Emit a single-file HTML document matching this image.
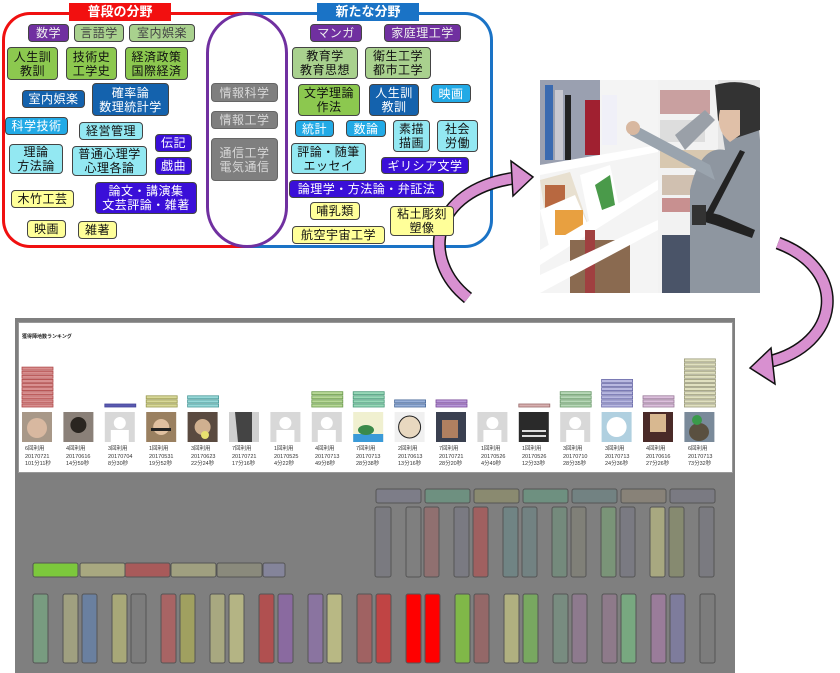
<!DOCTYPE html>
<html><head><meta charset="utf-8"><style>
*{margin:0;padding:0;box-sizing:border-box}
body{width:840px;height:673px;background:#fff;position:relative;overflow:hidden;font-family:"Liberation Sans","Noto Sans CJK JP",sans-serif}
.b{position:absolute;border:1px solid #444;border-radius:4px;font-size:12px;line-height:14px;text-align:center;display:flex;align-items:center;justify-content:center;letter-spacing:0.5px}
.pu{background:#7030a0;color:#eee}
.lg{background:#a9d18e;color:#444}
.gr{background:#8cc84f;color:#111}
.db{background:#1462ad;color:#fff}
.lb{background:#22aae6;color:#fff}
.cy{background:#93e8f2;color:#111}
.ig{background:#3a0fd8;color:#fff}
.ye{background:#ffff99;color:#111}
.gy{background:#7f7f7f;color:#d8d8d8;border-color:#666}
.t{position:absolute;font-size:5.5px;line-height:7.5px;color:#333}
</style></head><body>

<!-- frames -->
<div style="position:absolute;left:2px;top:12px;width:260px;height:236px;border:3px solid #f01010;border-right:none;border-radius:28px 0 0 28px"></div>
<div style="position:absolute;left:245px;top:12px;width:248px;height:236px;border:3px solid #1a73c6;border-left:none;border-radius:0 28px 28px 0"></div>
<div style="position:absolute;left:206px;top:12px;width:82px;height:236px;border:3px solid #7030a0;border-radius:41px"></div>
<div style="position:absolute;left:69px;top:3px;width:102px;height:18px;background:#f21010;color:#fff;font-size:13px;font-weight:bold;text-align:center;line-height:18px">普段の分野</div>
<div style="position:absolute;left:317px;top:3px;width:102px;height:18px;background:#1a73c6;color:#fff;font-size:13px;font-weight:bold;text-align:center;line-height:18px">新たな分野</div>

<!-- arrows -->
<svg style="position:absolute;left:0;top:0" width="840" height="673">
<g fill="none" stroke-linecap="butt">
<path d="M468,298 C420,260 430,190 515,178" stroke="#111" stroke-width="13"/>
<path d="M468,298 C420,260 430,190 515,178" stroke="#d890d0" stroke-width="10"/>
<path d="M778,243 C850,270 840,345 768,362" stroke="#111" stroke-width="13"/>
<path d="M778,243 C850,270 840,345 768,362" stroke="#d890d0" stroke-width="10"/>
</g>
<polygon points="511,161 533,177 513,196" fill="#d890d0" stroke="#111" stroke-width="1.5"/>
<polygon points="771,348 750,368 775,384" fill="#d890d0" stroke="#111" stroke-width="1.5"/>
</svg>

<div class="b pu" style="left:28px;top:24px;width:41px;height:18px">数学</div>
<div class="b lg" style="left:74px;top:24px;width:50px;height:18px">言語学</div>
<div class="b lg" style="left:129px;top:24px;width:66px;height:18px">室内娯楽</div>
<div class="b gr" style="left:7px;top:47px;width:51px;height:33px">人生訓<br>教訓</div>
<div class="b gr" style="left:66px;top:47px;width:51px;height:33px">技術史<br>工学史</div>
<div class="b gr" style="left:125px;top:47px;width:63px;height:33px">経済政策<br>国際経済</div>
<div class="b db" style="left:22px;top:90px;width:63px;height:18px">室内娯楽</div>
<div class="b db" style="left:92px;top:83px;width:77px;height:33px">確率論<br>数理統計学</div>
<div class="b lb" style="left:5px;top:117px;width:63px;height:18px">科学技術</div>
<div class="b cy" style="left:79px;top:122px;width:64px;height:18px">経営管理</div>
<div class="b ig" style="left:155px;top:134px;width:37px;height:18px">伝記</div>
<div class="b cy" style="left:9px;top:144px;width:54px;height:30px">理論<br>方法論</div>
<div class="b cy" style="left:72px;top:146px;width:75px;height:30px">普通心理学<br>心理各論</div>
<div class="b ig" style="left:155px;top:157px;width:37px;height:18px">戯曲</div>
<div class="b ig" style="left:95px;top:182px;width:102px;height:32px">論文・講演集<br>文芸評論・雑著</div>
<div class="b ye" style="left:11px;top:190px;width:63px;height:18px">木竹工芸</div>
<div class="b ye" style="left:27px;top:220px;width:39px;height:18px">映画</div>
<div class="b ye" style="left:78px;top:221px;width:39px;height:18px">雑著</div>

<div class="b gy" style="left:211px;top:83px;width:67px;height:19px">情報科学</div>
<div class="b gy" style="left:211px;top:111px;width:67px;height:18px">情報工学</div>
<div class="b gy" style="left:211px;top:138px;width:67px;height:43px">通信工学<br>電気通信</div>

<div class="b pu" style="left:310px;top:24px;width:52px;height:18px">マンガ</div>
<div class="b pu" style="left:384px;top:24px;width:77px;height:18px">家庭理工学</div>
<div class="b lg" style="left:292px;top:47px;width:66px;height:32px;color:#111">教育学<br>教育思想</div>
<div class="b lg" style="left:365px;top:47px;width:66px;height:32px;color:#111">衛生工学<br>都市工学</div>
<div class="b gr" style="left:298px;top:84px;width:62px;height:32px">文学理論<br>作法</div>
<div class="b db" style="left:369px;top:84px;width:50px;height:32px">人生訓<br>教訓</div>
<div class="b lb" style="left:431px;top:84px;width:40px;height:19px">映画</div>
<div class="b lb" style="left:295px;top:120px;width:39px;height:17px">統計</div>
<div class="b lb" style="left:346px;top:120px;width:40px;height:17px">数論</div>
<div class="b cy" style="left:393px;top:120px;width:37px;height:32px">素描<br>描画</div>
<div class="b cy" style="left:437px;top:120px;width:41px;height:32px">社会<br>労働</div>
<div class="b cy" style="left:291px;top:143px;width:75px;height:31px">評論・随筆<br>エッセイ</div>
<div class="b ig" style="left:381px;top:157px;width:88px;height:17px">ギリシア文学</div>
<div class="b ig" style="left:289px;top:180px;width:155px;height:18px">論理学・方法論・弁証法</div>
<div class="b ye" style="left:310px;top:202px;width:50px;height:18px">哺乳類</div>
<div class="b ye" style="left:292px;top:226px;width:93px;height:18px">航空宇宙工学</div>
<div class="b ye" style="left:390px;top:206px;width:64px;height:30px">粘土彫刻<br>塑像</div>

<!-- photo -->
<svg style="position:absolute;left:540px;top:80px" width="220" height="213" viewBox="0 0 220 213">
<rect width="220" height="213" fill="#e6e6e6"/>
<rect x="118" y="0" width="60" height="213" fill="#f2f2f2"/>
<rect x="120" y="10" width="50" height="24" fill="#c9a0a0"/><rect x="120" y="40" width="45" height="22" fill="#ddd"/>
<rect x="120" y="70" width="55" height="18" fill="#d8c8b0"/><rect x="122" y="95" width="40" height="20" fill="#d0c0b0"/>
<rect x="122" y="118" width="35" height="14" fill="#c89090"/>
<rect x="122" y="155" width="40" height="58" fill="#4a5468"/>
<polygon points="0,0 118,0 118,213 0,213" fill="#f4f4f4"/>
<polygon points="0,0 60,0 60,80 0,85" fill="#9aa0b0"/>
<rect x="5" y="5" width="8" height="75" fill="#3a6ab0"/><rect x="15" y="10" width="8" height="70" fill="#c8c8d0"/><rect x="25" y="15" width="6" height="65" fill="#222"/>
<rect x="45" y="20" width="15" height="55" fill="#a02030"/><rect x="62" y="15" width="15" height="50" fill="#f0f0f8"/>
<polygon points="0,85 118,65 118,72 0,95" fill="#fff"/>
<polygon points="0,100 30,92 50,150 10,170" fill="#e8e0d0"/><rect x="5" y="105" width="20" height="25" fill="#b86840"/>
<polygon points="0,130 35,115 50,150 10,170" fill="#fff"/><rect x="15" y="130" width="28" height="25" fill="#e8a040"/>
<polygon points="40,95 70,85 80,130 50,145" fill="#fff"/><polygon points="55,105 70,95 75,125 62,130" fill="#4a9a4a"/>
<polygon points="0,170 118,100 118,110 0,185" fill="#fff"/>
<rect x="30" y="160" width="60" height="53" fill="#8a6a50"/><rect x="45" y="150" width="10" height="63" fill="#a04040"/>
<polygon points="0,195 118,140 118,150 0,213" fill="#fff"/>
<polygon points="135,55 165,30 175,40 145,70" fill="#9aa0a8"/>
<path d="M175,5 Q200,0 215,10 L220,60 L220,213 L150,213 L150,110 Q160,65 185,70 Z" fill="#8e96a0"/>
<path d="M175,5 Q200,-2 220,8 L220,50 L190,60 L178,40 Z" fill="#333"/>
<path d="M180,30 Q175,50 190,62 L200,55 L200,30 Z" fill="#e0c0a8"/>
<path d="M95,45 L170,85 L175,100 L90,55 Z" fill="#9aa4ae"/>
<circle cx="93" cy="48" r="7" fill="#d8b8a0"/>
<polygon points="200,70 205,72 170,140 165,135" fill="#222"/>
<polygon points="160,130 180,135 215,150 212,158 175,145 158,140" fill="#222"/>
<rect x="152" y="125" width="14" height="20" fill="#333"/>
</svg>

<!-- ranking panel -->
<div style="position:absolute;left:15px;top:318px;width:720px;height:355px;background:#7f7f7f"></div>
<div style="position:absolute;left:18px;top:322px;width:715px;height:151px;background:#fff;border:1px solid #999"></div>
<div style="position:absolute;left:22px;top:333px;font-size:5px;font-weight:bold;color:#222">獲得陣地数ランキング</div>

<svg style="position:absolute;left:0;top:0" width="840" height="673">
<g stroke-width="0.8">
<g fill="#d89090" stroke="#b04848">
<rect x="22" y="404" width="31" height="3"/><rect x="22" y="399.9" width="31" height="3"/><rect x="22" y="395.8" width="31" height="3"/><rect x="22" y="391.7" width="31" height="3"/><rect x="22" y="387.6" width="31" height="3"/><rect x="22" y="383.5" width="31" height="3"/><rect x="22" y="379.4" width="31" height="3"/><rect x="22" y="375.3" width="31" height="3"/><rect x="22" y="371.2" width="31" height="3"/><rect x="22" y="367.1" width="31" height="3"/>
</g>
<rect x="104.8" y="404" width="31" height="3" fill="#5a5ab0" stroke="#44449a"/>
<g fill="#d8d898" stroke="#9a9a50"><rect x="146.2" y="404" width="31" height="3"/><rect x="146.2" y="399.9" width="31" height="3"/><rect x="146.2" y="395.8" width="31" height="3"/></g>
<g fill="#98d8d8" stroke="#4a9a9a"><rect x="187.6" y="404" width="31" height="3"/><rect x="187.6" y="399.9" width="31" height="3"/><rect x="187.6" y="395.8" width="31" height="3"/></g>
<g fill="#b8d898" stroke="#6a9a4a"><rect x="311.8" y="404" width="31" height="3"/><rect x="311.8" y="399.9" width="31" height="3"/><rect x="311.8" y="395.8" width="31" height="3"/><rect x="311.8" y="391.7" width="31" height="3"/></g>
<g fill="#98d8b8" stroke="#4a9a7a"><rect x="353.2" y="404" width="31" height="3"/><rect x="353.2" y="399.9" width="31" height="3"/><rect x="353.2" y="395.8" width="31" height="3"/><rect x="353.2" y="391.7" width="31" height="3"/></g>
<g fill="#98b0d8" stroke="#4a6a9a"><rect x="394.6" y="404" width="31" height="3"/><rect x="394.6" y="399.9" width="31" height="3"/></g>
<g fill="#b898d8" stroke="#7a4a9a"><rect x="436" y="404" width="31" height="3"/><rect x="436" y="399.9" width="31" height="3"/></g>
<rect x="518.8" y="404" width="31" height="3" fill="#d8b0b0" stroke="#9a6a6a"/>
<g fill="#b8d8b8" stroke="#6a9a6a"><rect x="560.2" y="404" width="31" height="3"/><rect x="560.2" y="399.9" width="31" height="3"/><rect x="560.2" y="395.8" width="31" height="3"/><rect x="560.2" y="391.7" width="31" height="3"/></g>
<g fill="#b8b8e0" stroke="#6a6aa8"><rect x="601.6" y="404" width="31" height="3"/><rect x="601.6" y="399.9" width="31" height="3"/><rect x="601.6" y="395.8" width="31" height="3"/><rect x="601.6" y="391.7" width="31" height="3"/><rect x="601.6" y="387.6" width="31" height="3"/><rect x="601.6" y="383.5" width="31" height="3"/><rect x="601.6" y="379.4" width="31" height="3"/></g>
<g fill="#dcc0dc" stroke="#9a7a9a"><rect x="643" y="404" width="31" height="3"/><rect x="643" y="399.9" width="31" height="3"/><rect x="643" y="395.8" width="31" height="3"/></g>
<g fill="#e0e0c0" stroke="#9a9a7a"><rect x="684.4" y="404" width="31" height="3"/><rect x="684.4" y="399.9" width="31" height="3"/><rect x="684.4" y="395.8" width="31" height="3"/><rect x="684.4" y="391.7" width="31" height="3"/><rect x="684.4" y="387.6" width="31" height="3"/><rect x="684.4" y="383.5" width="31" height="3"/><rect x="684.4" y="379.4" width="31" height="3"/><rect x="684.4" y="375.3" width="31" height="3"/><rect x="684.4" y="371.2" width="31" height="3"/><rect x="684.4" y="367.1" width="31" height="3"/><rect x="684.4" y="363" width="31" height="3"/><rect x="684.4" y="358.9" width="31" height="3"/></g>
</g>
<g>
<rect x="22" y="412" width="30" height="30" fill="#a89888"/><circle cx="37" cy="428" r="10" fill="#d8b8a0"/>
<rect x="63.4" y="412" width="30" height="30" fill="#8a8078"/><circle cx="78.4" cy="425" r="8" fill="#2a2520"/>
<rect x="104.8" y="412" width="30" height="30" fill="#d8d8d8"/><circle cx="119.8" cy="423" r="6" fill="#fff"/><rect x="110.8" y="430" width="18" height="12" fill="#fff"/>
<rect x="146.2" y="412" width="30" height="30" fill="#9a8060"/><circle cx="161.2" cy="427" r="8" fill="#e0c0a0"/><rect x="151" y="428" width="20" height="3" fill="#222"/>
<rect x="187.6" y="412" width="30" height="30" fill="#5a4a40"/><circle cx="202.6" cy="427" r="8" fill="#d0b090"/><circle cx="205" cy="435" r="4" fill="#e8e070"/>
<rect x="229" y="412" width="30" height="30" fill="#d0d0d0"/><path d="M235,412 L252,412 L252,442 L238,442 Z" fill="#444"/>
<rect x="270.4" y="412" width="30" height="30" fill="#d8d8d8"/><circle cx="285.4" cy="423" r="6" fill="#fff"/><rect x="276.4" y="430" width="18" height="12" fill="#fff"/>
<rect x="311.8" y="412" width="30" height="30" fill="#d8d8d8"/><circle cx="326.8" cy="423" r="6" fill="#fff"/><rect x="317.8" y="430" width="18" height="12" fill="#fff"/>
<rect x="353.2" y="412" width="30" height="30" fill="#f0f0d0"/><rect x="353.2" y="434" width="30" height="8" fill="#3a9ad8"/><ellipse cx="366" cy="430" rx="8" ry="5" fill="#3a8a4a"/>
<rect x="394.6" y="412" width="30" height="30" fill="#f0f0f0"/><circle cx="409.6" cy="427" r="11" fill="#e8d8c0" stroke="#222"/>
<rect x="436" y="412" width="30" height="30" fill="#3a4050"/><rect x="442" y="420" width="16" height="18" fill="#b08060"/>
<rect x="477.4" y="412" width="30" height="30" fill="#d8d8d8"/><circle cx="492.4" cy="423" r="6" fill="#fff"/><rect x="483.4" y="430" width="18" height="12" fill="#fff"/>
<rect x="518.8" y="412" width="30" height="30" fill="#2a2a2a"/><rect x="522" y="430" width="24" height="2" fill="#ddd"/><rect x="522" y="435" width="24" height="2" fill="#ddd"/>
<rect x="560.2" y="412" width="30" height="30" fill="#d8d8d8"/><circle cx="575.2" cy="423" r="6" fill="#fff"/><rect x="566.2" y="430" width="18" height="12" fill="#fff"/>
<rect x="601.6" y="412" width="30" height="30" fill="#b0d0e0"/><circle cx="616.6" cy="427" r="10" fill="#fff"/>
<rect x="643" y="412" width="30" height="30" fill="#4a2a28"/><rect x="650" y="414" width="16" height="18" fill="#d8b890"/>
<rect x="684.4" y="412" width="30" height="30" fill="#7a8a9a"/><ellipse cx="699" cy="432" rx="10" ry="9" fill="#5a5040"/><circle cx="697" cy="420" r="5" fill="#3a9a4a"/>
</g>
</svg>

<div class="t" style="left:25px;top:446px">6回利用<br>20170721<br>101分11秒</div>
<div class="t" style="left:66px;top:446px">4回利用<br>20170616<br>14分59秒</div>
<div class="t" style="left:108px;top:446px">3回利用<br>20170704<br>8分30秒</div>
<div class="t" style="left:149px;top:446px">1回利用<br>20170531<br>19分52秒</div>
<div class="t" style="left:191px;top:446px">3回利用<br>20170623<br>22分24秒</div>
<div class="t" style="left:232px;top:446px">7回利用<br>20170721<br>17分16秒</div>
<div class="t" style="left:274px;top:446px">1回利用<br>20170525<br>4分22秒</div>
<div class="t" style="left:315px;top:446px">4回利用<br>20170713<br>49分8秒</div>
<div class="t" style="left:356px;top:446px">7回利用<br>20170713<br>28分38秒</div>
<div class="t" style="left:398px;top:446px">2回利用<br>20170613<br>13分16秒</div>
<div class="t" style="left:439px;top:446px">7回利用<br>20170721<br>28分20秒</div>
<div class="t" style="left:481px;top:446px">1回利用<br>20170526<br>4分49秒</div>
<div class="t" style="left:522px;top:446px">1回利用<br>20170526<br>12分33秒</div>
<div class="t" style="left:563px;top:446px">3回利用<br>20170710<br>28分35秒</div>
<div class="t" style="left:605px;top:446px">3回利用<br>20170713<br>24分36秒</div>
<div class="t" style="left:646px;top:446px">4回利用<br>20170616<br>27分26秒</div>
<div class="t" style="left:688px;top:446px">6回利用<br>20170713<br>73分32秒</div>

<svg style="position:absolute;left:0;top:0" width="840" height="673">
<g stroke="#555" stroke-width="1">
<rect x="376" y="489" width="45" height="14" rx="2" fill="#7d7d88"/>
<rect x="425" y="489" width="45" height="14" rx="2" fill="#6e9080"/>
<rect x="474" y="489" width="45" height="14" rx="2" fill="#8a8a70"/>
<rect x="523" y="489" width="45" height="14" rx="2" fill="#6e9080"/>
<rect x="572" y="489" width="45" height="14" rx="2" fill="#728282"/>
<rect x="621" y="489" width="45" height="14" rx="2" fill="#888278"/>
<rect x="670" y="489" width="45" height="14" rx="2" fill="#7a7a82"/>

<rect x="375" y="507" width="16" height="70" rx="2" fill="#7a7a80"/>
<rect x="406" y="507" width="15" height="70" rx="2" fill="#7f7f7f"/>
<rect x="424" y="507" width="15" height="70" rx="2" fill="#907070"/>
<rect x="454" y="507" width="15" height="70" rx="2" fill="#7a7a82"/>
<rect x="473" y="507" width="15" height="70" rx="2" fill="#a06060"/>
<rect x="503" y="507" width="15" height="70" rx="2" fill="#708484"/>
<rect x="522" y="507" width="15" height="70" rx="2" fill="#728282"/>
<rect x="552" y="507" width="15" height="70" rx="2" fill="#748a7c"/>
<rect x="571" y="507" width="15" height="70" rx="2" fill="#808078"/>
<rect x="601" y="507" width="15" height="70" rx="2" fill="#7a9478"/>
<rect x="620" y="507" width="15" height="70" rx="2" fill="#7a7a82"/>
<rect x="650" y="507" width="15" height="70" rx="2" fill="#a8a880"/>
<rect x="669" y="507" width="15" height="70" rx="2" fill="#868a70"/>
<rect x="699" y="507" width="15" height="70" rx="2" fill="#7a7a80"/>

<rect x="33" y="563" width="45" height="14" rx="2" fill="#7cc83c"/>
<rect x="80" y="563" width="45" height="14" rx="2" fill="#a8a880"/>
<rect x="125" y="563" width="45" height="14" rx="2" fill="#a85a5a"/>
<rect x="171" y="563" width="45" height="14" rx="2" fill="#a0a080"/>
<rect x="217" y="563" width="45" height="14" rx="2" fill="#8a8a7c"/>
<rect x="263" y="563" width="22" height="14" rx="2" fill="#84849a"/>

<rect x="33" y="594" width="15" height="69" rx="2" fill="#789c80"/>
<rect x="63" y="594" width="15" height="69" rx="2" fill="#a0a080"/>
<rect x="82" y="594" width="15" height="69" rx="2" fill="#6a80a0"/>
<rect x="112" y="594" width="15" height="69" rx="2" fill="#a8a878"/>
<rect x="131" y="594" width="15" height="69" rx="2" fill="#7c7c7c"/>
<rect x="161" y="594" width="15" height="69" rx="2" fill="#a86464"/>
<rect x="180" y="594" width="15" height="69" rx="2" fill="#a0a060"/>
<rect x="210" y="594" width="15" height="69" rx="2" fill="#a8a880"/>
<rect x="229" y="594" width="15" height="69" rx="2" fill="#b4b484"/>
<rect x="259" y="594" width="15" height="69" rx="2" fill="#b05050"/>
<rect x="278" y="594" width="15" height="69" rx="2" fill="#8a6aa0"/>
<rect x="308" y="594" width="15" height="69" rx="2" fill="#8a74a0"/>
<rect x="327" y="594" width="15" height="69" rx="2" fill="#b8b884"/>
<rect x="357" y="594" width="15" height="69" rx="2" fill="#a06262"/>
<rect x="376" y="594" width="15" height="69" rx="2" fill="#c04444"/>
<rect x="406" y="594" width="15" height="69" rx="2" fill="#ff0000"/>
<rect x="425" y="594" width="15" height="69" rx="2" fill="#ff0000"/>
<rect x="455" y="594" width="15" height="69" rx="2" fill="#80b848"/>
<rect x="474" y="594" width="15" height="69" rx="2" fill="#946868"/>
<rect x="504" y="594" width="15" height="69" rx="2" fill="#b0b080"/>
<rect x="523" y="594" width="15" height="69" rx="2" fill="#78a860"/>
<rect x="553" y="594" width="15" height="69" rx="2" fill="#788c80"/>
<rect x="572" y="594" width="15" height="69" rx="2" fill="#8e7a8e"/>
<rect x="602" y="594" width="15" height="69" rx="2" fill="#8e7a8a"/>
<rect x="621" y="594" width="15" height="69" rx="2" fill="#78a880"/>
<rect x="651" y="594" width="15" height="69" rx="2" fill="#9a7c9a"/>
<rect x="670" y="594" width="15" height="69" rx="2" fill="#7e7c9c"/>
<rect x="700" y="594" width="15" height="69" rx="2" fill="#7c7c7c"/>
</g>
</svg>
</body></html>
